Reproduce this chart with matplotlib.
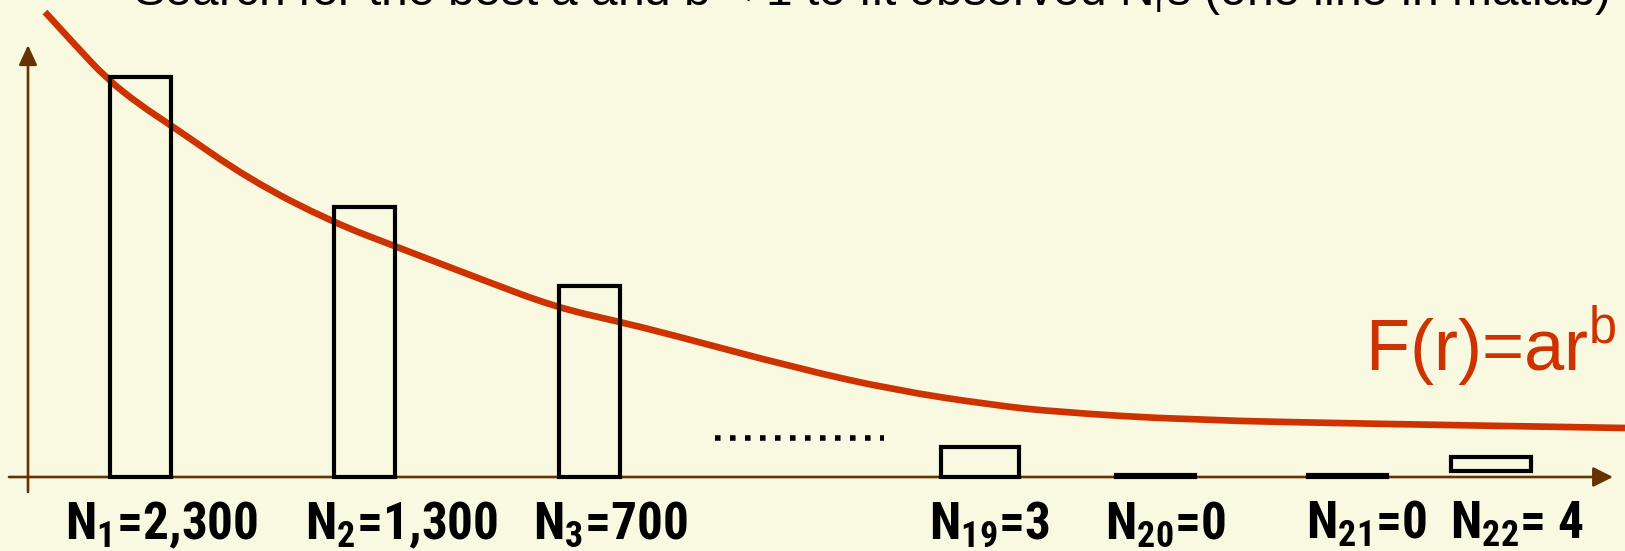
import matplotlib
matplotlib.use("Agg")
import matplotlib.pyplot as plt
from matplotlib.path import Path
from matplotlib.patches import PathPatch, FancyArrowPatch

# ---- data ----
ranks = [1, 2, 3, 19, 20, 21, 22]
counts = [2300, 1300, 700, 3, 0, 0, 4]
count_text = ["2,300", "1,300", "700", "3", "0", "0", " 4"]
# schematic bar heights as drawn (not to scale with the counts)
drawn_heights = [400, 270, 191, 30, 2, 2, 14]
drawn_bottoms = [0, 0, 0, 0, 0, 0, 6]

# hand drawn fit curve F(r)=ar^b
curve_x = [45, 76, 107, 140, 172, 250, 332, 397, 483, 555, 620, 665,
           796, 894, 992, 1057, 1188, 1384, 1625]
curve_y = [465, 431, 398, 372, 351, 297, 255, 230, 197, 170, 155, 144,
           109, 87, 72, 65, 57, 53, 49]

title = "Search for the best a and b < 1 to fit observed N$_{\\mathsf{r}}$s (one line in matlab)"

# ---- layout ----
bar_x = [140, 364, 589, 980, 1155, 1347, 1491]
bar_w = [61, 61, 61, 78, 79, 79, 80]
label_x = [65, 305, 533, 929, 1105, 1306, 1450]

BG = "#F9F9E2"
AXIS = "#663300"
RED = "#CC3300"
LABEL_FONT = "Roboto Condensed"

plt.rcParams["mathtext.fontset"] = "custom"
plt.rcParams["mathtext.bf"] = LABEL_FONT + ":bold"
plt.rcParams["mathtext.sf"] = "Liberation Sans"
plt.rcParams["mathtext.rm"] = "Liberation Sans"

fig = plt.figure(figsize=(16.25, 5.51), dpi=100, facecolor=BG)
ax = fig.add_axes([0, 0, 1, 1])
ax.set_facecolor(BG)
ax.set_xlim(0, 1625)
ax.set_ylim(-74, 477)
ax.axis("off")

# axes arrows
xarrow = FancyArrowPatch((9, 0), (1613, 0), arrowstyle="-|>,head_length=12,head_width=6",
                         mutation_scale=1, color=AXIS, lw=1.9, shrinkA=0, shrinkB=0, zorder=1)
yarrow = FancyArrowPatch((28, -15), (28, 432), arrowstyle="-|>,head_length=12,head_width=5.5",
                         mutation_scale=1, color=AXIS, lw=1.9, shrinkA=0, shrinkB=0, zorder=1)
ax.add_patch(xarrow)
ax.add_patch(yarrow)

# smooth red curve (quadratic segments through the midpoints)
pts = list(zip(curve_x, curve_y))
verts = [pts[0]]
codes = [Path.MOVETO]
for i in range(1, len(pts) - 1):
    mid = ((pts[i][0] + pts[i + 1][0]) / 2, (pts[i][1] + pts[i + 1][1]) / 2)
    verts += [pts[i], mid]
    codes += [Path.CURVE3, Path.CURVE3]
verts.append(pts[-1])
codes.append(Path.LINETO)
ax.add_patch(PathPatch(Path(verts, codes), facecolor="none", edgecolor=RED,
                       lw=4.8, capstyle="butt", zorder=2))

# bars
ax.bar(bar_x, drawn_heights, width=bar_w, bottom=drawn_bottoms, facecolor="none",
       edgecolor="black", linewidth=3.0, zorder=3)

# dotted gap marker
ax.plot([715, 884], [39, 39], color="black", lw=4.0, linestyle=(0, (1, 1.7)),
        solid_capstyle="butt", dash_capstyle="butt", zorder=3)

# labels under the bars
for x, r, c in zip(label_x, ranks, count_text):
    ax.text(x, -62, "N$_{\\mathbf{%d}}$=%s" % (r, c), ha="left", va="baseline",
            fontsize=37, fontweight="bold", family=LABEL_FONT, color="black")

ax.text(1365, 107, "F(r)=ar$^{\\mathsf{b}}$", ha="left", va="baseline", fontsize=52,
        family="Liberation Sans", color=RED)

ax.text(133, 472, title, ha="left", va="baseline", fontsize=34.5,
        family="Liberation Sans", color="black", clip_on=False)

fig.savefig("out.png", dpi=100, facecolor=BG)
